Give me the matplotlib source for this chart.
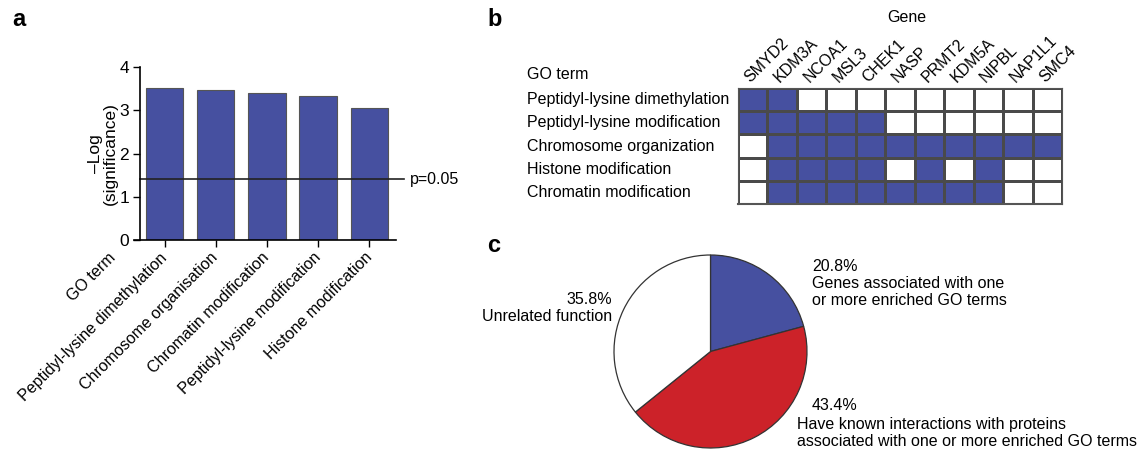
import numpy as np
import matplotlib
matplotlib.use('Agg')
import matplotlib.pyplot as plt
from matplotlib.colors import ListedColormap
from matplotlib.transforms import blended_transform_factory, offset_copy

plt.rcParams['font.family'] = ['Liberation Sans', 'DejaVu Sans']
plt.rcParams['font.size'] = 11.5

# data
go_terms_a = ['Peptidyl-lysine dimethylation', 'Chromosome organisation',
              'Chromatin modification', 'Peptidyl-lysine modification',
              'Histone modification']
neg_log_sig = [3.52, 3.46, 3.41, 3.33, 3.05]
p_cut = 1.4

genes = ['SMYD2', 'KDM3A', 'NCOA1', 'MSL3', 'CHEK1', 'NASP', 'PRMT2',
         'KDM5A', 'NIPBL', 'NAP1L1', 'SMC4']
go_terms_b = ['Peptidyl-lysine dimethylation', 'Peptidyl-lysine modification',
              'Chromosome organization', 'Histone modification',
              'Chromatin modification']
membership = [
    [1, 1, 0, 0, 0, 0, 0, 0, 0, 0, 0],
    [1, 1, 1, 1, 1, 0, 0, 0, 0, 0, 0],
    [0, 1, 1, 1, 1, 1, 1, 1, 1, 1, 1],
    [0, 1, 1, 1, 1, 0, 1, 0, 1, 0, 0],
    [0, 1, 1, 1, 1, 1, 1, 1, 1, 0, 0],
]

pie_pct = [20.8, 43.4, 35.8]

blue = '#4650a0'
red = '#cc2229'

W, H = 1142, 458
fig = plt.figure(figsize=(W / 100, H / 100), dpi=100)

def box(x0, y0, x1, y1):
    # pixel box -> figure fraction
    return [x0 / W, 1 - y1 / H, (x1 - x0) / W, (y1 - y0) / H]

# ---- panel a: bar chart
ax = fig.add_axes(box(140, 67, 396, 240))
x = np.arange(len(neg_log_sig))
ax.bar(x, neg_log_sig, width=0.73, color=blue, edgecolor='#555555', linewidth=0.8)
ax.set_xlim(-0.48, 4.52)
ax.set_ylim(0, 4)
ax.set_yticks([0, 1, 2, 3, 4])
ax.set_xticks(x)
ax.set_xticklabels(go_terms_a, rotation=45, ha='right', va='center',
                   rotation_mode='anchor', fontsize=11.5)
ax.tick_params(axis='both', direction='out', length=5, width=1)
ax.tick_params(axis='x', pad=6)
ax.tick_params(axis='y', labelsize=12.5, pad=3)
for s in ['top', 'right']:
    ax.spines[s].set_visible(False)
for s in ['left', 'bottom']:
    ax.spines[s].set_linewidth(1.2)
ax.spines['bottom'].set_bounds(-0.6, 4.52)
ax.axhline(p_cut, xmin=0, xmax=1.03, color='#222222', lw=1.2, clip_on=False)
ax.text(1.055, p_cut, 'p=0.05', transform=blended_transform_factory(ax.transAxes, ax.transData),
        va='center', ha='left', fontsize=11.5)
go_tr = offset_copy(blended_transform_factory(ax.transData, ax.transAxes),
                    fig=fig, x=0, y=-11, units='points')
ax.text(-1, 0, 'GO term', transform=go_tr, rotation=45, ha='right', va='center',
        rotation_mode='anchor', fontsize=11.5, clip_on=False)
ax.set_ylabel('\u2013Log\n(significance)', fontsize=12.5, labelpad=1, linespacing=1.0)
fig.text(12 / W, 1 - 19 / H, 'a', fontsize=17, weight='bold', va='center')

# ---- panel b: membership grid
axb = fig.add_axes(box(738, 88, 1062, 204))
cmap = ListedColormap(['white', blue])
axb.pcolormesh(np.array(membership), cmap=cmap, vmin=0, vmax=1,
               edgecolors='#4a4a4a', linewidth=0.8)
axb.set_xlim(0, len(genes))
axb.set_ylim(len(go_terms_b), 0)
axb.set_xticks(np.arange(len(genes)) + 0.5)
axb.set_xticklabels(genes, rotation=45, ha='left', va='bottom',
                    rotation_mode='anchor')
axb.xaxis.tick_top()
axb.tick_params(axis='x', length=0, pad=2)
axb.set_yticks([])
for s in axb.spines.values():
    s.set_edgecolor('#555555')
    s.set_linewidth(0.8)
axb.spines['bottom'].set_linewidth(1.5)
tr = blended_transform_factory(axb.transAxes, axb.transData)
for i, t in enumerate(go_terms_b):
    axb.text(-0.651, i + 0.5, t, transform=tr, ha='left', va='center')
axb.text(-0.651, -0.6, 'GO term', transform=tr, ha='left', va='center')
fig.text(907 / W, 1 - 18 / H, 'Gene', ha='center', va='center')
fig.text(487 / W, 1 - 19 / H, 'b', fontsize=17, weight='bold', va='center')

# ---- panel c: pie
axc = fig.add_axes(box(614, 255, 807, 448))
axc.pie(pie_pct, colors=[blue, red, 'white'], startangle=90, counterclock=False,
        wedgeprops=dict(edgecolor='#333333', linewidth=0.9))
axc.set_xlim(-1, 1)
axc.set_ylim(-1, 1)
for w in axc.patches:
    w.set_clip_on(False)
fig.text(487 / W, 1 - 245 / H, 'c', fontsize=17, weight='bold', va='center')

fig.text(812 / W, 1 - 259 / H, '%.1f%%\nGenes associated with one\nor more enriched GO terms' % pie_pct[0],
         ha='left', va='top', linespacing=1.15)
fig.text(612 / W, 1 - 292 / H, '%.1f%%\nUnrelated function' % pie_pct[2],
         ha='right', va='top', multialignment='right', linespacing=1.15)
fig.text(812 / W, 1 - 398 / H, '%.1f%%' % pie_pct[1], ha='left', va='top')
fig.text(797 / W, 1 - 417 / H, 'Have known interactions with proteins\nassociated with one or more enriched GO terms',
         ha='left', va='top', linespacing=1.15)

fig.savefig('out.png', dpi=100)
